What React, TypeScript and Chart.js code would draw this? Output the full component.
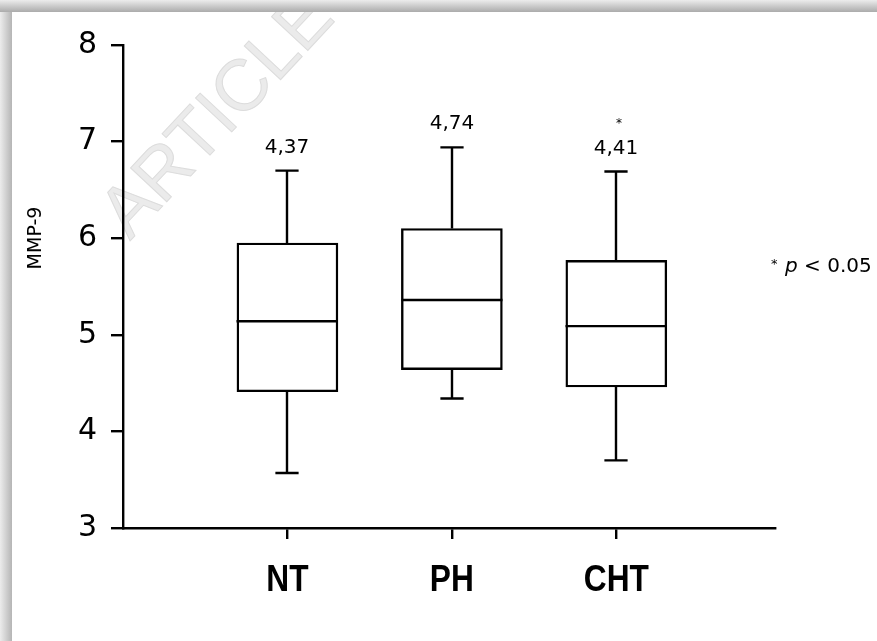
import React, { useEffect, useRef } from 'react';
import { Chart, registerables } from 'chart.js';

Chart.register(...registerables);

// ---- data ----
const categories = ['NT', 'PH', 'CHT'];
const categoryPositions = [1, 2, 3];
const whiskerLow = [3.57, 4.34, 3.7];
const quartile1 = [4.41, 4.64, 4.46];
const medians = [5.14, 5.36, 5.09];
const quartile3 = [5.95, 6.1, 5.77];
const whiskerHigh = [6.7, 6.94, 6.69];
const valueLabels = ['4,37', '4,74', '4,41'];
const significant = [false, false, true];
const yMin = 3;
const yMax = 8;
const xMin = 0;
const xMax = 3.965;
const yTitle = 'MMP-9';
const noteItalic = 'p';
const noteRest = ' < 0.05';
const watermarkText = 'ARTICLE IN PRESS';

const SANS = '"DejaVu Sans", "Liberation Sans", Arial, sans-serif';
const HELV = '"Liberation Sans", Arial, Helvetica, sans-serif';
const LINE = 2.4;

const extrasPlugin = {
  id: 'boxExtras',
  beforeDraw(chart: any) {
    const { ctx, width, height } = chart;
    ctx.save();
    ctx.fillStyle = '#ffffff';
    ctx.fillRect(0, 0, width, height);
    // watermark
    ctx.save();
    ctx.translate(130, 241);
    ctx.rotate(-0.82);
    ctx.font = `72px ${HELV}`;
    ctx.fillStyle = '#ebebeb';
    ctx.strokeStyle = '#dcdcdc';
    ctx.lineWidth = 1;
    ctx.textBaseline = 'alphabetic';
    ctx.fillText(watermarkText, 0, 0);
    ctx.strokeText(watermarkText, 0, 0);
    ctx.restore();
    // frame shadow (top and left)
    let g = ctx.createLinearGradient(0, 0, 0, 12);
    g.addColorStop(0, '#ececec');
    g.addColorStop(1, '#ababab');
    ctx.fillStyle = g;
    ctx.fillRect(0, 0, width, 12);
    g = ctx.createLinearGradient(0, 0, 12, 0);
    g.addColorStop(0, '#ececec');
    g.addColorStop(1, '#b5b5b5');
    ctx.fillStyle = g;
    ctx.fillRect(0, 12, 12, height - 12);
    ctx.restore();
  },
  afterDatasetsDraw(chart: any) {
    const { ctx } = chart;
    const ys = chart.scales.y;
    const xs = chart.scales.x;
    const meta = chart.getDatasetMeta(0);
    ctx.save();
    ctx.strokeStyle = '#000';
    ctx.lineWidth = LINE;
    ctx.lineCap = 'butt';
    categories.forEach((name, i) => {
      const el = meta.data[i];
      if (!el) return;
      const cx = Math.round(el.x);
      const half = el.width / 2;
      const capHalf = el.width * 0.115;
      const yLo = ys.getPixelForValue(whiskerLow[i]);
      const yQ1 = ys.getPixelForValue(quartile1[i]);
      const yMed = ys.getPixelForValue(medians[i]);
      const yQ3 = ys.getPixelForValue(quartile3[i]);
      const yHi = ys.getPixelForValue(whiskerHigh[i]);
      ctx.beginPath();
      // median
      ctx.moveTo(cx - half, yMed);
      ctx.lineTo(cx + half, yMed);
      // upper whisker
      ctx.moveTo(cx, yQ3);
      ctx.lineTo(cx, yHi);
      ctx.moveTo(cx - capHalf, yHi);
      ctx.lineTo(cx + capHalf, yHi);
      // lower whisker
      ctx.moveTo(cx, yQ1);
      ctx.lineTo(cx, yLo);
      ctx.moveTo(cx - capHalf, yLo);
      ctx.lineTo(cx + capHalf, yLo);
      ctx.stroke();
      // value label
      ctx.fillStyle = '#000';
      ctx.font = `20px ${SANS}`;
      ctx.textAlign = 'center';
      ctx.textBaseline = 'alphabetic';
      ctx.fillText(valueLabels[i], cx, yHi - 18);
      if (significant[i]) {
        ctx.font = `12px ${SANS}`;
        ctx.fillText('*', cx + 3, yHi - 45);
      }
      // category label (condensed bold)
      const lx = xs.getPixelForValue(categoryPositions[i]);
      ctx.save();
      ctx.translate(lx, 591);
      ctx.scale(0.88, 1);
      ctx.font = `bold 36px ${HELV}`;
      ctx.textAlign = 'center';
      ctx.fillText(name, 0, 0);
      ctx.restore();
    });
    // y title
    ctx.save();
    ctx.translate(41, 238);
    ctx.rotate(-Math.PI / 2);
    ctx.font = `19px ${SANS}`;
    ctx.textAlign = 'center';
    ctx.textBaseline = 'alphabetic';
    ctx.fillStyle = '#000';
    ctx.fillText(yTitle, 0, 0);
    ctx.restore();
    // significance note
    ctx.fillStyle = '#000';
    ctx.textAlign = 'left';
    ctx.textBaseline = 'alphabetic';
    ctx.font = `13px ${SANS}`;
    ctx.fillText('*', 771, 268);
    ctx.font = `italic 20px ${SANS}`;
    ctx.fillText(noteItalic, 785, 272);
    const pw = ctx.measureText(noteItalic).width;
    ctx.font = `20px ${SANS}`;
    ctx.fillText(noteRest, 785 + pw, 272);
    ctx.restore();
  },
};

export default function App() {
  const canvasRef = useRef<HTMLCanvasElement | null>(null);

  useEffect(() => {
    document.body.style.margin = '0';
    const canvas = canvasRef.current;
    if (!canvas) return;
    const boxData: any[] = categories.map((_, i) => ({
      x: categoryPositions[i],
      y: [quartile1[i], quartile3[i]],
    }));
    const chart = new Chart(canvas, {
      type: 'bar',
      data: {
        datasets: [
          {
            data: boxData,
            backgroundColor: '#ffffff',
            borderColor: '#000000',
            borderWidth: LINE,
            borderSkipped: false,
            barThickness: 101,
          },
        ],
      },
      options: {
        responsive: true,
        maintainAspectRatio: false,
        animation: false,
        layout: { padding: { left: 0, top: 45, right: 102, bottom: 0 } },
        plugins: { legend: { display: false }, tooltip: { enabled: false } },
        scales: {
          x: {
            type: 'linear',
            min: xMin,
            max: xMax,
            offset: false,
            grid: {
              offset: false,
              drawOnChartArea: false,
              tickLength: 11,
              lineWidth: LINE,
              color: (c: any) =>
                c.tick && categoryPositions.includes(c.tick.value) ? '#000' : 'rgba(0,0,0,0)',
            },
            border: { display: true, color: '#000', width: LINE },
            ticks: { display: false, stepSize: 1, autoSkip: false, maxRotation: 0 },
            afterFit: (s: any) => {
              s.height = 113;
            },
          },
          y: {
            type: 'linear',
            min: yMin,
            max: yMax,
            grid: { drawOnChartArea: false, tickLength: 12, lineWidth: LINE, color: '#000' },
            border: { display: true, color: '#000', width: LINE },
            ticks: {
              stepSize: 1,
              color: '#000',
              padding: 14,
              font: { family: SANS, size: 30 },
            },
            afterFit: (s: any) => {
              s.width = 123;
            },
          },
        },
      },
      plugins: [extrasPlugin],
    });
    return () => chart.destroy();
  }, []);

  return (
    <div style={{ position: 'fixed', left: 0, top: 0, width: 877, height: 641 }}>
      <canvas ref={canvasRef} />
    </div>
  );
}
